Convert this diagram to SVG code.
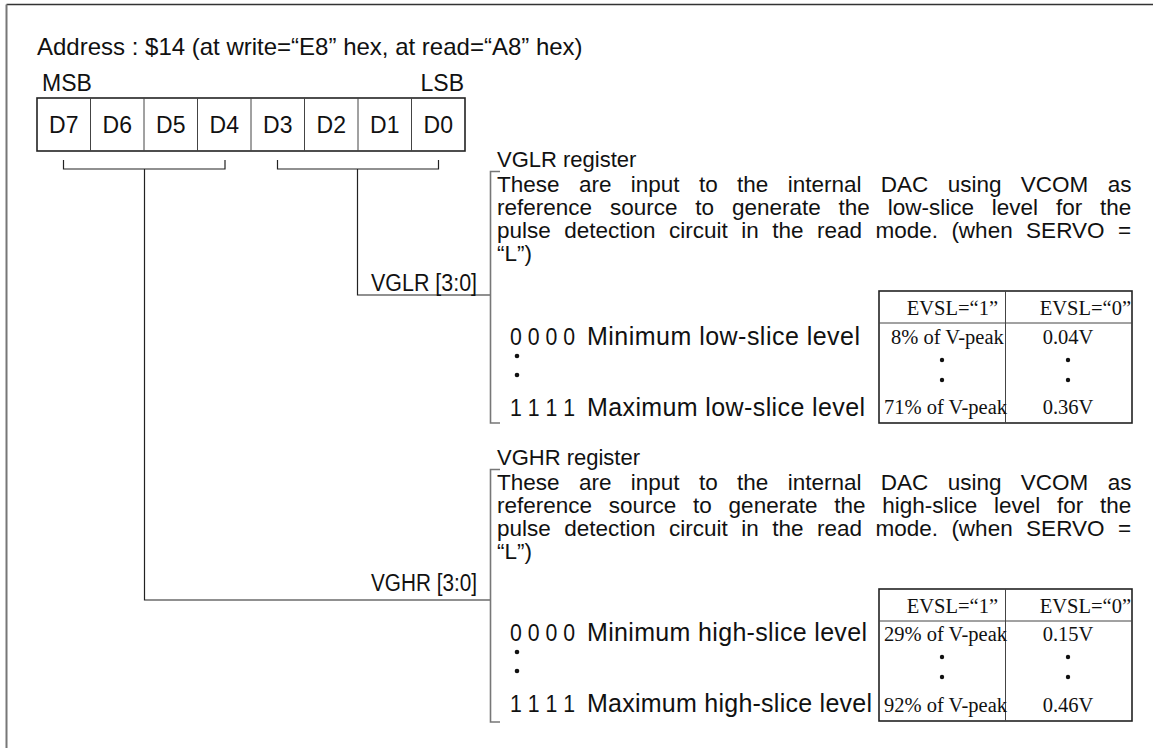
<svg xmlns="http://www.w3.org/2000/svg" width="1153" height="748" viewBox="0 0 1153 748">
  <style>
    .t { font-family: "Liberation Sans", Arial, sans-serif; font-size: 23px; fill: #111; }
    .b { font-family: "Liberation Sans", Arial, sans-serif; font-size: 22.5px; fill: #111; }
    .lv { font-family: "Liberation Sans", Arial, sans-serif; font-size: 25px; fill: #111; }
    .reg { font-family: "Liberation Sans", Arial, sans-serif; font-size: 23px; fill: #111; text-anchor: middle; }
    .s { font-family: "Liberation Serif", "Times New Roman", serif; font-size: 20.5px; fill: #111; }
    .sr { font-family: "Liberation Serif", "Times New Roman", serif; font-size: 20.5px; fill: #111; text-anchor: end; }
    .sm { font-family: "Liberation Serif", "Times New Roman", serif; font-size: 20.5px; fill: #111; text-anchor: middle; }
    .ln { fill: none; stroke: #222; stroke-width: 1.2; }
    .br { fill: none; stroke: #777; stroke-width: 1.6; }
    .cell { fill: #fff; stroke: #222; stroke-width: 1.6; }
    .tb { fill: #fff; stroke: #222; stroke-width: 1.6; }
    .dv { stroke: #444; stroke-width: 1; }
    .dot { fill: #111; }
  </style>
  <rect width="1153" height="748" fill="#fff"/>

  <!-- page frame (left and top edges) -->
  <line x1="6.5" y1="4.5" x2="1153" y2="4.5" stroke="#333" stroke-width="1.6"/>
  <line x1="6.5" y1="4.5" x2="6.5" y2="748" stroke="#777" stroke-width="2"/>

  <text class="t" x="37" y="55" style="font-size:24px">Address : $14 (at write=“E8” hex, at read=“A8” hex)</text>
  <text class="t" x="42" y="91">MSB</text>
  <text class="t" x="464" y="91" text-anchor="end">LSB</text>

  <!-- register bit cells -->
  <g id="register">
    <rect class="cell" x="37" y="98" width="428" height="53"/>
    <line class="dv" x1="90.5" y1="98" x2="90.5" y2="151"/>
    <line class="dv" x1="144" y1="98" x2="144" y2="151"/>
    <line class="dv" x1="197.5" y1="98" x2="197.5" y2="151"/>
    <line class="dv" x1="251" y1="98" x2="251" y2="151"/>
    <line class="dv" x1="304.5" y1="98" x2="304.5" y2="151"/>
    <line class="dv" x1="358" y1="98" x2="358" y2="151"/>
    <line class="dv" x1="411.5" y1="98" x2="411.5" y2="151"/>
    <text class="reg" x="63.8" y="133">D7</text>
    <text class="reg" x="117.3" y="133">D6</text>
    <text class="reg" x="170.8" y="133">D5</text>
    <text class="reg" x="224.3" y="133">D4</text>
    <text class="reg" x="277.8" y="133">D3</text>
    <text class="reg" x="331.3" y="133">D2</text>
    <text class="reg" x="384.8" y="133">D1</text>
    <text class="reg" x="438.3" y="133">D0</text>
  </g>

  <!-- field connectors -->
  <g id="connectors">
    <path class="ln" d="M63.5,160 V169 H225 V160"/>
    <path class="ln" d="M277.5,160 V169 H438.5 V160"/>
    <path class="ln" d="M357.5,169 V295 H490"/>
    <path class="ln" d="M144.5,169 V600 H490"/>
  </g>

  <!-- VGLR register description -->
  <g id="vglr">
    <text class="t" x="497" y="167" style="font-size:22px">VGLR register</text>
    <path class="br" d="M500,171.5 H490.5 V423 H500"/>
    <text class="t" x="477" y="291" text-anchor="end" textLength="106" lengthAdjust="spacingAndGlyphs">VGLR [3:0]</text>
    <text class="b" x="497" y="192" style="word-spacing:13.1px">These are input to the internal DAC using VCOM as</text>
    <text class="b" x="497" y="215" style="word-spacing:11.6px">reference source to generate the low-slice level for the</text>
    <text class="b" x="497" y="238" style="word-spacing:7.2px">pulse detection circuit in the read mode. (when SERVO =</text>
    <text class="b" x="497" y="261">“L”)</text>
    <text class="t" x="510" y="345" textLength="65" lengthAdjust="spacingAndGlyphs">0 0 0 0</text>
    <text class="lv" x="587" y="345" textLength="273" lengthAdjust="spacing">Minimum low-slice level</text>
    <circle class="dot" cx="517" cy="356" r="2.3"/>
    <circle class="dot" cx="517" cy="375" r="2.3"/>
    <text class="t" x="510" y="416" textLength="65" lengthAdjust="spacingAndGlyphs">1 1 1 1</text>
    <text class="lv" x="587" y="416" textLength="278" lengthAdjust="spacing">Maximum low-slice level</text>
    <g id="vglr-table">
      <rect class="tb" x="879" y="291" width="253" height="132"/>
      <line class="dv" x1="879" y1="323" x2="1132" y2="323"/>
      <line class="dv" x1="1005.5" y1="291" x2="1005.5" y2="423"/>
      <text class="sr" x="998" y="315">EVSL=“1”</text>
      <text class="sr" x="1131" y="315">EVSL=“0”</text>
      <text class="s" x="891" y="344">8% of V-peak</text>
      <text class="sm" x="1068" y="344">0.04V</text>
      <circle class="dot" cx="942" cy="360" r="2.2"/>
      <circle class="dot" cx="942" cy="380" r="2.2"/>
      <circle class="dot" cx="1068" cy="360" r="2.2"/>
      <circle class="dot" cx="1068" cy="380" r="2.2"/>
      <text class="s" x="884" y="414">71% of V-peak</text>
      <text class="sm" x="1068" y="414">0.36V</text>
    </g>
  </g>

  <!-- VGHR register description -->
  <g id="vghr">
    <text class="t" x="497" y="465" style="font-size:22px">VGHR register</text>
    <path class="br" d="M500,469.5 H490.5 V722 H500"/>
    <text class="t" x="477" y="591" text-anchor="end" textLength="106" lengthAdjust="spacingAndGlyphs">VGHR [3:0]</text>
    <text class="b" x="497" y="490" style="word-spacing:13.1px">These are input to the internal DAC using VCOM as</text>
    <text class="b" x="497" y="513" style="word-spacing:10.5px">reference source to generate the high-slice level for the</text>
    <text class="b" x="497" y="536" style="word-spacing:7.2px">pulse detection circuit in the read mode. (when SERVO =</text>
    <text class="b" x="497" y="559">“L”)</text>
    <text class="t" x="510" y="641" textLength="65" lengthAdjust="spacingAndGlyphs">0 0 0 0</text>
    <text class="lv" x="587" y="641" textLength="280" lengthAdjust="spacing">Minimum high-slice level</text>
    <circle class="dot" cx="517" cy="652" r="2.3"/>
    <circle class="dot" cx="517" cy="671" r="2.3"/>
    <text class="t" x="510" y="712" textLength="65" lengthAdjust="spacingAndGlyphs">1 1 1 1</text>
    <text class="lv" x="587" y="712" textLength="285" lengthAdjust="spacing">Maximum high-slice level</text>
    <g id="vghr-table">
      <rect class="tb" x="879" y="589" width="253" height="132"/>
      <line class="dv" x1="879" y1="621" x2="1132" y2="621"/>
      <line class="dv" x1="1005.5" y1="589" x2="1005.5" y2="721"/>
      <text class="sr" x="998" y="613">EVSL=“1”</text>
      <text class="sr" x="1131" y="613">EVSL=“0”</text>
      <text class="s" x="884" y="641">29% of V-peak</text>
      <text class="sm" x="1068" y="641">0.15V</text>
      <circle class="dot" cx="942" cy="657" r="2.2"/>
      <circle class="dot" cx="942" cy="677" r="2.2"/>
      <circle class="dot" cx="1068" cy="657" r="2.2"/>
      <circle class="dot" cx="1068" cy="677" r="2.2"/>
      <text class="s" x="884" y="712">92% of V-peak</text>
      <text class="sm" x="1068" y="712">0.46V</text>
    </g>
  </g>
</svg>
